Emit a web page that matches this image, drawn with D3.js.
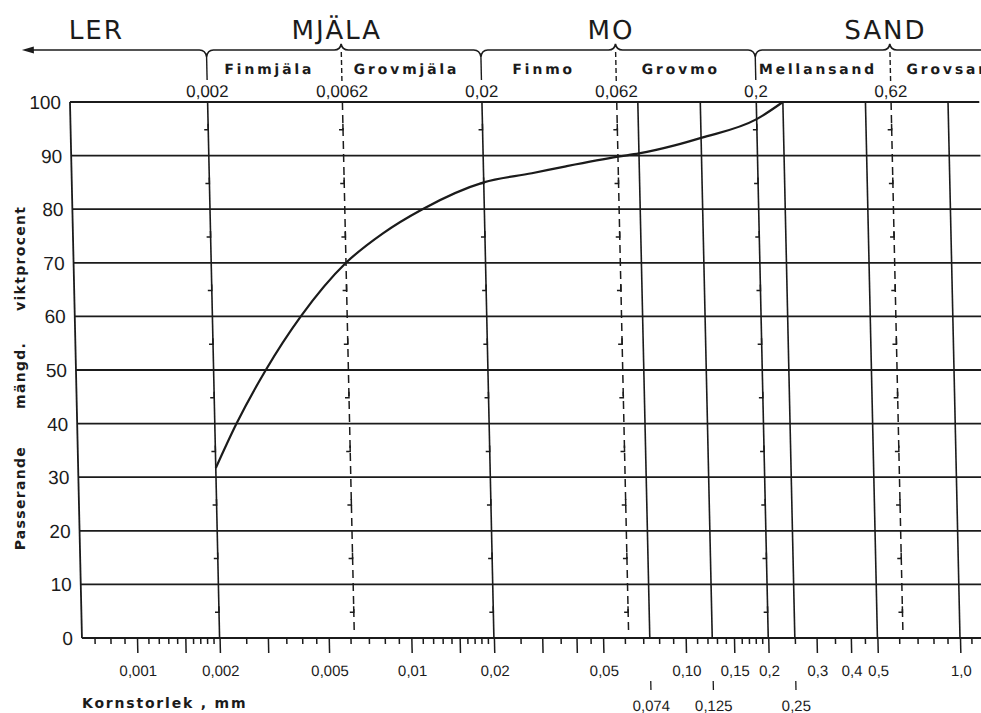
<!DOCTYPE html>
<html>
<head>
<meta charset="utf-8">
<script src="https://cdn.jsdelivr.net/npm/d3@7"></script>
<style>
  body { margin: 0; background: #fff; }
  svg { display: block; }
</style>
</head>
<body>
<div id="chart"></div>
<script>
// kornfördelningskurva (grain size distribution)
const curveSize = [0.002, 0.0024, 0.0031, 0.0042, 0.0062, 0.0085, 0.0119, 0.02, 0.03, 0.04, 0.062, 0.074, 0.1, 0.125, 0.2, 0.25];
const curvePass = [31.7, 40, 50, 60, 70, 75.5, 80, 85, 86.7, 88, 89.8, 90.4, 91.9, 93.3, 96.8, 100];

const gridPct = [0, 10, 20, 30, 40, 50, 60, 70, 80, 90, 100];
const halfPct = [5, 15, 25, 35, 45, 55, 65, 75, 85, 95];

const solidSizes = [0.002, 0.02, 0.074, 0.125, 0.2, 0.25, 0.5, 1.0];
const dashedSizes = [0.0062, 0.062, 0.62];
const markedSizes = [0.002, 0.02, 0.2];

const majorTicks = [0.001, 0.0015, 0.002, 0.003, 0.005, 0.01, 0.015, 0.02, 0.03, 0.04, 0.05, 0.1, 0.15, 0.2, 0.3, 0.4, 0.5, 1.0];
const minorTicks = [0.0007, 0.0008, 0.0009, 0.0011, 0.0012, 0.0013, 0.0014, 0.0016, 0.0017, 0.0018, 0.0019,
  0.0025, 0.0035, 0.004, 0.0045, 0.006, 0.007, 0.008, 0.009, 0.011, 0.012, 0.013, 0.014, 0.016, 0.017, 0.018, 0.019,
  0.025, 0.035, 0.045, 0.06, 0.07, 0.08, 0.09, 0.11, 0.12, 0.13, 0.14, 0.16, 0.17, 0.18, 0.19,
  0.25, 0.35, 0.45, 0.6, 0.7, 0.8, 0.9, 1.1, 1.2];
const labelSizes = [0.001, 0.002, 0.005, 0.01, 0.02, 0.05, 0.1, 0.15, 0.2, 0.3, 0.4, 0.5, 1.0];
const labelTexts = ["0,001", "0,002", "0,005", "0,01", "0,02", "0,05", "0,10", "0,15", "0,2", "0,3", "0,4", "0,5", "1,0"];
const sieveSizes = [0.074, 0.125, 0.25];
const sieveTexts = ["0,074", "0,125", "0,25"];

const mainNames = ["MJÄLA", "MO", "SAND"];
const mainMids = [0.0062, 0.062, 0.62];
const mainBounds = [0.002, 0.02, 0.2];
const subNames = ["Finmjäla", "Grovmjäla", "Finmo", "Grovmo", "Mellansand", "Grovsand"];
const subEdges = [0.002, 0.0062, 0.02, 0.062, 0.2, 0.62, 2.0];
const edgeTexts = ["0,002", "0,0062", "0,02", "0,062", "0,2", "0,62"];

const W = 981, H = 713;
const numFont = "'Liberation Sans', Arial, sans-serif";
const txtFont = "'DejaVu Sans', sans-serif";
const ink = "#1b1b1b";

const x = d3.scaleLog().domain([0.001, 1]).range([137, 960]);
const y = d3.scaleLinear().domain([0, 100]).range([638, 102]);
const xMin = 0.00063, xMax = 1.3;

const svg = d3.select("#chart").append("svg")
  .attr("width", W).attr("height", H);

// the scanned sheet leans slightly, so shear the plot about the base line
const g = svg.append("g")
  .attr("transform", `translate(0,${y(0)}) skewX(1.28) translate(0,${-y(0)})`);

// horizontal grid
g.append("g").selectAll("line").data(gridPct).enter().append("line")
  .attr("x1", x(xMin)).attr("x2", x(xMax))
  .attr("y1", d => y(d)).attr("y2", d => y(d))
  .attr("stroke", ink).attr("stroke-width", 1.8);

// left border
g.append("line")
  .attr("x1", x(xMin)).attr("x2", x(xMin))
  .attr("y1", y(0)).attr("y2", y(100))
  .attr("stroke", ink).attr("stroke-width", 1.8);

// vertical size lines
g.append("g").selectAll("line").data(solidSizes).enter().append("line")
  .attr("x1", d => x(d)).attr("x2", d => x(d))
  .attr("y1", y(0)).attr("y2", y(100))
  .attr("stroke", ink).attr("stroke-width", 1.6);

g.append("g").selectAll("line").data(dashedSizes).enter().append("line")
  .attr("x1", d => x(d)).attr("x2", d => x(d))
  .attr("y1", y(0) - 8).attr("y2", y(100))
  .attr("stroke", ink).attr("stroke-width", 1.5)
  .attr("stroke-dasharray", "8,5");

// little marks at the 5 % levels
const hooks = [];
dashedSizes.concat(markedSizes).forEach(s => halfPct.forEach(p => hooks.push([s, p])));
g.append("g").selectAll("path").data(hooks).enter().append("path")
  .attr("d", d => `M${x(d[0]) - 4},${y(d[1]) + 1}L${x(d[0])},${y(d[1]) + 1}L${x(d[0])},${y(d[1]) - 5}`)
  .attr("fill", "none").attr("stroke", ink).attr("stroke-width", 1.5);

// x axis
const axisG = g.append("g").attr("transform", `translate(0,${y(0)})`);
axisG.append("g")
  .call(d3.axisBottom(x).tickValues(minorTicks).tickSize(6).tickFormat(""))
  .call(a => a.select(".domain").remove());
axisG.append("g")
  .call(d3.axisBottom(x).tickValues(majorTicks).tickSize(15).tickPadding(12)
    .tickFormat(d => {
      const i = labelSizes.indexOf(d);
      return i < 0 ? "" : labelTexts[i];
    }))
  .call(a => a.select(".domain").remove());
axisG.selectAll("line").attr("stroke", ink).attr("stroke-width", 1.5);
axisG.selectAll("text")
  .attr("fill", ink).style("font-family", numFont).style("font-size", "15px");
axisG.append("line")
  .attr("x1", x(xMin)).attr("x2", x(xMax))
  .attr("stroke", ink).attr("stroke-width", 1.8);

// sieve sizes under the axis
const sieve = g.append("g").selectAll("g").data(sieveSizes).enter().append("g");
sieve.append("line")
  .attr("x1", d => x(d)).attr("x2", d => x(d))
  .attr("y1", 681).attr("y2", 690)
  .attr("stroke", ink).attr("stroke-width", 1.3);
sieve.append("text")
  .attr("x", d => x(d)).attr("y", 711)
  .attr("text-anchor", "middle")
  .style("font-family", numFont).style("font-size", "15px").attr("fill", ink)
  .text((d, i) => sieveTexts[i]);

// y tick labels
g.append("g").selectAll("text").data(gridPct).enter().append("text")
  .attr("x", x(xMin) - 9).attr("y", d => y(d) + 7)
  .attr("text-anchor", "end")
  .style("font-family", numFont).style("font-size", "19px").attr("fill", ink)
  .text(d => d);

// curve
const pts = curveSize.map((s, i) => [s, curvePass[i]]);
g.append("path")
  .datum(pts)
  .attr("d", d3.line().x(d => x(d[0])).y(d => y(d[1])).curve(d3.curveMonotoneX))
  .attr("fill", "none").attr("stroke", ink).attr("stroke-width", 2.2);

// header: fraction bracket
const by = 50, arrowX = 35;
const marks = mainBounds.map(v => ({ v, dip: true }))
  .concat(mainMids.map(v => ({ v, dip: false })))
  .sort((a, b) => a.v - b.v);
let p = `M${arrowX + 10},${by}`;
marks.forEach(m => {
  const cx = x(m.v);
  const ty = m.dip ? by + 7 : by - 6;
  p += `L${cx - 7},${by}Q${cx - 1},${by} ${cx},${ty}Q${cx + 1},${by} ${cx + 7},${by}`;
});
p += `L${W + 40},${by}`;
g.append("path").attr("d", p)
  .attr("fill", "none").attr("stroke", ink).attr("stroke-width", 1.6);
g.append("path")
  .attr("d", `M${arrowX},${by}L${arrowX + 12},${by - 3.5}L${arrowX + 12},${by + 3.5}Z`)
  .attr("fill", ink);

g.append("g").selectAll("line").data(mainBounds).enter().append("line")
  .attr("x1", d => x(d)).attr("x2", d => x(d))
  .attr("y1", by + 7).attr("y2", 80)
  .attr("stroke", ink).attr("stroke-width", 1.4);
g.append("g").selectAll("line").data(mainMids).enter().append("line")
  .attr("x1", d => x(d)).attr("x2", d => x(d))
  .attr("y1", by + 2).attr("y2", 82)
  .attr("stroke", ink).attr("stroke-width", 1.4)
  .attr("stroke-dasharray", "5,3");

// main fraction names
const bigStyle = sel => sel
  .style("font-family", txtFont).style("font-size", "26px").style("font-weight", "normal")
  .style("letter-spacing", "2px").attr("fill", ink).attr("text-anchor", "middle");
g.append("text").attr("x", arrowX + 75).attr("y", 39).text("LER").call(bigStyle);
g.append("g").selectAll("text").data(mainNames).enter().append("text")
  .attr("x", (d, i) => x(mainMids[i]) - 4).attr("y", 39)
  .text(d => d).call(bigStyle);

// sub fraction names
g.append("g").selectAll("text").data(subNames).enter().append("text")
  .attr("x", (d, i) => x(Math.sqrt(subEdges[i] * subEdges[i + 1])) - 5)
  .attr("y", 74)
  .attr("text-anchor", "middle")
  .style("font-family", txtFont).style("font-size", "14px").style("font-weight", "bold")
  .style("letter-spacing", "2.8px").attr("fill", ink)
  .text(d => d);

// boundary values
g.append("g").selectAll("text").data(edgeTexts).enter().append("text")
  .attr("x", (d, i) => x(subEdges[i])).attr("y", 97)
  .attr("text-anchor", "middle")
  .style("font-family", numFont).style("font-size", "17px").attr("fill", ink)
  .text(d => d);

// axis titles
svg.append("text")
  .attr("x", 82).attr("y", 708)
  .style("font-family", txtFont).style("font-size", "14px").style("font-weight", "bold")
  .style("letter-spacing", "1.8px").attr("fill", ink)
  .text("Kornstorlek , mm");

svg.append("text")
  .attr("transform", "translate(25,378) rotate(-90)")
  .attr("text-anchor", "middle")
  .style("font-family", txtFont).style("font-size", "14px").style("font-weight", "bold")
  .style("letter-spacing", "1.3px").style("white-space", "pre").attr("fill", ink)
  .text("Passerande      mängd.     viktprocent");
</script>
</body>
</html>
